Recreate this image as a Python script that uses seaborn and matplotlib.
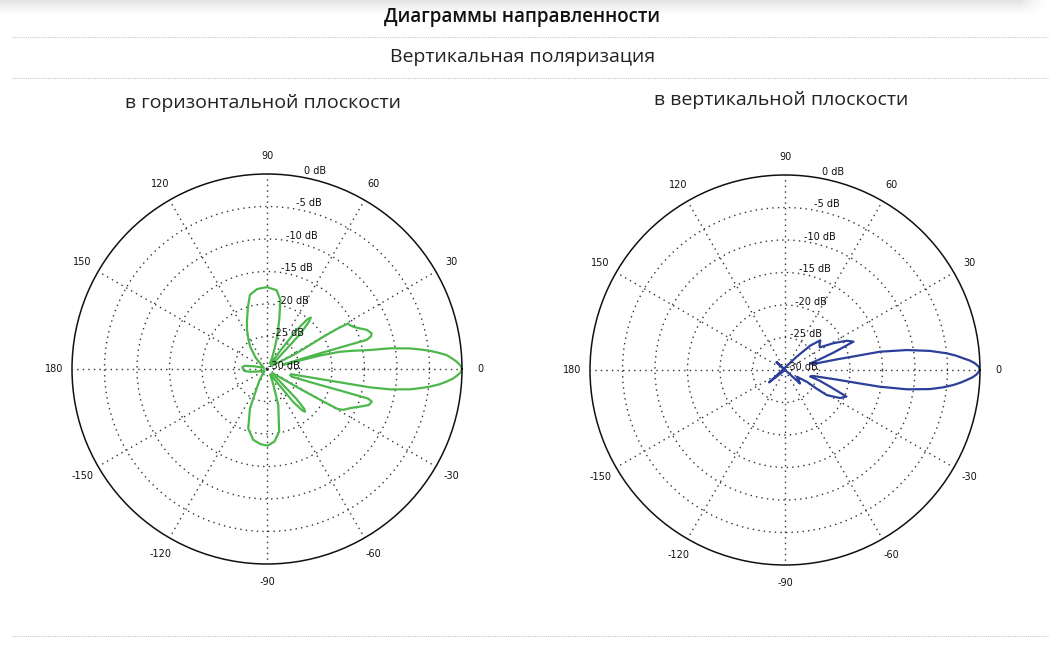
import numpy as np
import matplotlib
matplotlib.use("Agg")
import matplotlib.pyplot as plt
import seaborn as sns
from matplotlib.lines import Line2D

# radiation pattern, horizontal plane (angle in deg, level in dB), traced in order
h_angle = [0, 1, 2.2, 3.3, 4.45, 5.4, 6.4, 7.3, 8.2, 9.55, 10.45, 12, 13.3, 14.2, 14.5,
           14, 15.5, 16.5, 16.3, 17.5, 18.8, 21.4, 23.6, 26, 28, 29.3, 29.8, 29.8,
           29, 28, 30, 38, 44, 46.5, 48.5, 49.6, 51, 52.7, 54, 56, 62, 66, 70, 73, 76,
           79, 83, 90, 97, 103, 107, 112, 117, 122, 127, 135, 145, 160, 168, 172, 176,
           180, -175, -171, -165, -155, -140, -130, -124, -118, -113.4, -107.5, -101,
           -95, -89.5, -84, -79, -72.6, -68, -64, -58, -54, -51.5, -49.5, -48.3, -47,
           -45.5, -43, -38, -33, -31, -30, -29.5, -28.2, -25, -22.1, -19.5, -17.3,
           -16.3, -16.4, -16.8, -17.3, -15, -12.2, -10.5, -10.1, -9.4, -8.1, -7.1,
           -6.2, -5.1, -4.0, -3.0, -2.1, -1, 0]
h_db = [0, -0.2, -0.8, -1.5, -2.3, -3.5, -4.8, -6.3, -7.8, -10.8, -13.9, -16.5, -18.5,
        -21.5, -24.5, -26.8, -27.5, -21.5, -14.0, -13.2, -13.0, -13.5, -14.4, -15.2,
        -15.6, -15.7, -17.5, -20, -23, -25.4, -28, -29.2, -28, -22.5, -20.2, -19.6,
        -20.2, -22.5, -26.5, -29, -29, -28, -26.4, -24.5, -22.2, -19.2, -17.8, -17.4,
        -17.6, -18.3, -20, -21.8, -23.2, -24.6, -25.7, -27.5, -29, -29.5, -28, -26.5,
        -26.2, -26.3, -26.5, -27.3, -28.5, -29.5, -29.5, -29, -28, -26.6, -23.4,
        -20.4, -18.9, -18.4, -18.2, -18.8, -20.2, -24.2, -27.4, -28.5, -29, -28,
        -23.5, -21.6, -21.2, -21.6, -23.5, -28, -29, -28, -24, -20, -17.5, -16.7,
        -15.8, -14.6, -13.4, -13.1, -13.8, -18, -22, -26, -26.3, -26.2, -20.2, -13.9,
        -10.8, -7.8, -6.2, -4.8, -3.4, -2.3, -1.4, -0.8, -0.2, 0]

# radiation pattern, vertical plane
v_angle = [0, 1, 2.0, 2.9, 3.75, 4.8, 5.9, 7.5, 9.3, 10.9, 11.1, 11.6, 12, 14.5, 17,
           19.8, 22.5, 25.4, 29, 33, 36.5, 40, 44, 48.7, -142, 0, 137, -42, -35, -29.8,
           -28.3, -30.5, -31, -27, -23.4, -20.3, -17, -14.5, -12, -10.5, -10.2, -10,
           -9.0, -7.5, -6.3, -5.1, -4.1, -3.15, -2.2, -1.3, 0]
v_db = [0, -0.2, -0.75, -1.5, -2.5, -3.6, -5.0, -7.5, -11.0, -15.1, -18.3, -22,
        -25.5, -26, -24.5, -22, -18.6, -19.5, -21.5, -23.6, -23.4, -22.9, -24.6,
        -27.3, -26.9, -30, -28.2, -26.9, -27.5, -27.9, -26.2, -24.4, -22.5, -20.5,
        -19.7, -22.6, -24.5, -26, -25.6, -22, -18.3, -15.2, -11.0, -7.5, -5.6, -4.0,
        -2.9, -2.0, -1.1, -0.5, 0]

ring_db = [-25, -20, -15, -10, -5]
ring_label_db = [0, -5, -10, -15, -20, -25, -30]
ring_labels = ["0 dB", "-5 dB", "-10 dB", "-15 dB", "-20 dB", "-25 dB", "-30 dB"]
angle_ticks = [0, 30, 60, 90, 120, 150, 180, 210, 240, 270, 300, 330]
angle_labels = ["0", "30", "60", "90", "120", "150", "180", "-150", "-120", "-90", "-60", "-30"]

sns.set_style("white")
plt.rcParams["font.family"] = ["DejaVu Sans"]

W, H = 1061, 646
fig = plt.figure(figsize=(W / 100, H / 100), dpi=100)


def polar_axes(cx, cy, rad=195):
    return fig.add_axes([(cx - rad) / W, 1 - (cy + rad) / H, 2 * rad / W, 2 * rad / H],
                        projection="polar")


def style_polar(ax):
    ax.set_ylim(-30, 0)
    ax.set_yticks(ring_db)
    ax.set_yticklabels([])
    ax.set_xticks(np.deg2rad(angle_ticks))
    ax.set_xticklabels(angle_labels)
    ax.tick_params(axis="x", pad=2.5, labelsize=7, colors="#111111")
    ax.tick_params(axis="y", length=0)
    ax.grid(True, color="#333333", linestyle=(0, (1, 3)), linewidth=1.0)
    ax.spines["polar"].set_color("#111111")
    ax.spines["polar"].set_linewidth(1.1)
    ax.set_xlabel("")
    ax.set_ylabel("")
    for v, lbl in zip(ring_label_db, ring_labels):
        r_px = (v + 30) / 30 * 195
        ax.annotate(lbl, xy=(np.pi / 2, v), xytext=(0.72 * (33 + 0.133 * r_px), 2.3),
                    textcoords="offset points", ha="right", va="center", fontsize=7,
                    color="#111111", annotation_clip=False)


ax1 = polar_axes(267, 369)
sns.lineplot(x=np.deg2rad(h_angle), y=h_db, ax=ax1, sort=False, estimator=None,
             color="#4cb84c", linewidth=1.6)
style_polar(ax1)

ax2 = polar_axes(785, 370)
sns.lineplot(x=np.deg2rad(v_angle), y=v_db, ax=ax2, sort=False, estimator=None,
             color="#2b3f9b", linewidth=1.6)
style_polar(ax2)

# top shadow band
sh = fig.add_axes([0, 1 - 16 / H, 1, 16 / H])
grad = np.outer(np.linspace(0.2, 0, 16), np.clip((1045 - np.arange(W)) / 25, 0, 1))
sh.imshow(grad, aspect="auto", cmap="Greys", vmin=0, vmax=1)
sh.axis("off")

# headings
fig.text(522 / W, 1 - 17 / H, "Диаграммы направленности", ha="center", va="center",
         fontsize=13.5, fontweight="semibold", family="Open Sans", color="#111111")
fig.text(523 / W, 1 - 57 / H, "Вертикальная поляризация", ha="center", va="center",
         fontsize=14, family="Open Sans", color="#222222")
fig.text(263 / W, 1 - 103 / H, "в горизонтальной плоскости", ha="center", va="center",
         fontsize=14, family="Open Sans", color="#222222")
fig.text(781 / W, 1 - 100 / H, "в вертикальной плоскости", ha="center", va="center",
         fontsize=14, family="Open Sans", color="#222222")

for yy in (37, 78, 636):
    fig.add_artist(Line2D([12 / W, 1048 / W], [1 - yy / H, 1 - yy / H],
                          transform=fig.transFigure, color="#c8c8c8",
                          linestyle=(0, (1, 1)), linewidth=0.8))

fig.savefig("out.png", dpi=100, facecolor="white")
